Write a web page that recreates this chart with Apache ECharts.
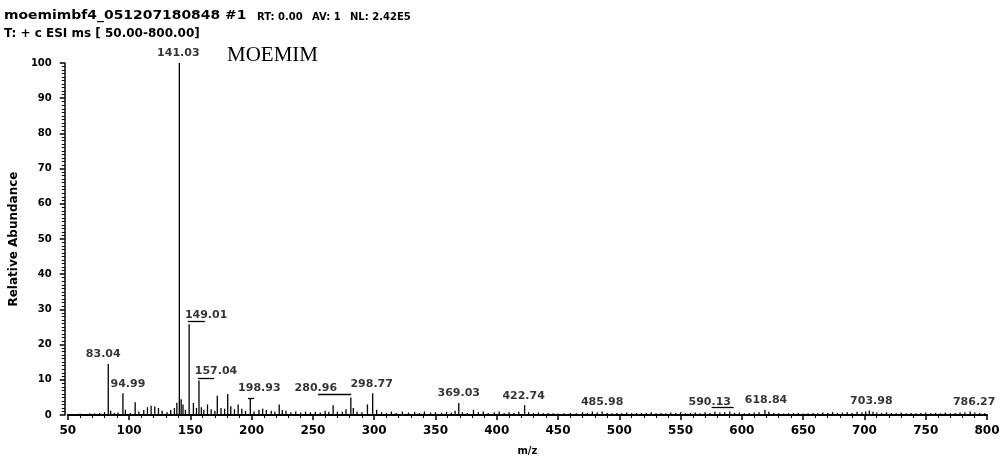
<!DOCTYPE html>
<html>
<head>
<meta charset="utf-8">
<script src="https://cdn.jsdelivr.net/npm/echarts@6/dist/echarts.min.js"></script>
<style>
  html, body { margin: 0; padding: 0; background: #fff; }
  #chart { width: 1003px; height: 461px; }
</style>
</head>
<body>
<div id="chart"></div>
<script>
// Labelled peaks (m/z, relative abundance %)
const labeledMz    = [83.04, 94.99, 141.03, 149.01, 157.04, 198.93, 280.96, 298.77, 369.03, 422.74, 485.98, 590.13, 618.84, 703.98, 786.27];
const labeledAbund = [14.5,  6.2,   100,    25.8,   9.8,    4.8,    5.0,    6.2,    3.4,    2.8,    1.0,    1.0,    1.5,    1.3,    1.0];

// Unlabelled minor peaks (m/z, relative abundance %)
const minorMz = [
  55, 60, 64, 68, 72, 76, 80, 85, 88, 91, 97, 101, 105, 108, 112, 115, 118, 121, 124, 127,
  131, 134, 137, 139, 142.5, 144, 146, 152.5, 155, 159, 161, 164, 167, 170, 172, 175, 178, 180.5, 183, 186,
  189, 192, 195, 202, 206, 209, 212, 216, 219, 222.5, 225, 228, 232, 236, 240, 244, 248, 252, 256, 260,
  263, 266.5, 270, 274, 277, 283, 286, 290, 294.5, 302, 306, 310, 314, 318, 323, 328, 333, 337, 341, 346,
  350, 355, 359, 363, 366, 372, 376, 381, 385, 389, 393, 398, 402, 406, 410, 414, 418, 426, 430, 434,
  438, 442, 446, 450, 455, 460, 465, 470, 474, 478, 482, 490, 494, 498, 502, 506, 510, 514, 518, 522,
  526, 530, 534, 538, 542, 546, 550, 554, 558, 562, 566, 570, 574, 578, 582, 586, 594, 598, 602, 606,
  610, 614, 622, 626, 630, 634, 638, 642, 646, 650, 654, 658, 662, 666, 670, 674, 678, 682, 686, 690,
  694, 698, 701, 707, 710, 714, 718, 722, 726, 730, 734, 738, 742, 746, 750, 754, 758, 762, 766, 770,
  774, 778, 782, 790, 794, 798
];
const minorAbund = [
  0.3, 0.4, 0.3, 0.5, 0.4, 0.6, 0.8, 1.2, 0.6, 0.7, 1.5, 0.6, 3.6, 1.0, 1.4, 2.2, 2.6, 2.4, 2.0, 1.2,
  0.8, 1.4, 2.0, 3.5, 4.5, 3.0, 1.5, 3.4, 2.0, 2.2, 1.5, 3.0, 1.6, 1.2, 5.5, 2.0, 1.8, 6.0, 2.5, 1.6,
  3.0, 1.8, 1.2, 1.0, 1.5, 1.8, 1.4, 1.2, 1.0, 3.0, 1.4, 1.2, 0.8, 1.0, 0.7, 1.0, 0.8, 0.9, 0.7, 1.2,
  0.9, 2.8, 1.0, 0.9, 1.6, 2.0, 1.0, 0.8, 3.0, 1.5, 0.8, 0.6, 1.0, 0.6, 1.0, 0.7, 0.9, 0.6, 1.0, 0.7,
  0.8, 0.6, 0.9, 0.7, 1.2, 0.8, 0.6, 1.5, 0.8, 1.0, 0.6, 0.8, 1.0, 0.6, 0.8, 0.6, 0.9, 0.8, 0.6, 0.7,
  0.5, 0.6, 0.5, 0.4, 0.5, 0.6, 0.5, 0.8, 0.6, 1.0, 0.7, 0.6, 0.5, 0.6, 0.5, 0.7, 0.5, 0.6, 0.5, 0.6,
  0.8, 0.5, 0.6, 0.5, 0.7, 0.6, 0.8, 0.5, 0.6, 0.7, 0.5, 0.8, 0.6, 0.9, 0.7, 0.8, 0.6, 0.7, 0.5, 0.6,
  0.7, 0.8, 0.9, 0.6, 0.5, 0.4, 0.5, 0.5, 0.6, 0.4, 0.5, 0.6, 0.5, 0.7, 0.6, 0.8, 0.6, 0.7, 0.8, 0.6,
  0.9, 0.7, 1.0, 0.9, 0.7, 0.6, 0.8, 0.6, 0.5, 0.7, 0.5, 0.6, 0.5, 0.6, 0.7, 0.5, 0.6, 0.5, 0.7, 0.5,
  0.6, 0.7, 0.8, 0.7, 0.6, 0.5
];

// Short leader bars drawn under some peak labels (m/z from, m/z to, abundance level)
const leaderFrom  = [148.0, 156.2, 197.0, 254.2, 575.3];
const leaderTo    = [161.9, 169.3, 202.0, 281.2, 593.3];
const leaderLevel = [26.6,  10.4,  4.8,   5.9,   2.2];

// Axis ticks
const xTickMin = 50, xTickMax = 800, xTickStep = 50;
const yTickMin = 0,  yTickMax = 100, yTickStep = 10;

const headerLine1 = ['moemimbf4_051207180848 #1', 'RT: 0.00', 'AV: 1', 'NL: 2.42E5'];
const headerLine2 = 'T: + c ESI ms [ 50.00-800.00]';
const compoundName = 'MOEMIM';

// Horizontal nudge (px) of each peak label so neighbouring labels do not collide
const labelDx = [-5, 5, -1, 17, 17, 9, -35, -1, 0, -1, 0, -20, 1, 2, 4];

const allPeaks = minorMz.map((m, i) => [m, minorAbund[i]])
  .concat(labeledMz.map((m, i) => [m, labeledAbund[i]]));
const labelPoints = labeledMz.map((m, i) => ({
  value: [m, labeledAbund[i]],
  name: m.toFixed(2),
  label: { offset: [labelDx[i], 0] }
}));
const leaderLines = leaderFrom.map((f, i) => [
  { coord: [f, leaderLevel[i]] },
  { coord: [leaderTo[i], leaderLevel[i]] }
]);

const SANS = '"DejaVu Sans", "Liberation Sans", Arial, sans-serif';
const headFont = 'bold 12px ' + SANS;
const headFontSmall = 'bold 10px ' + SANS;

const chart = echarts.init(document.getElementById('chart'), null, { renderer: 'canvas' });

chart.setOption({
  backgroundColor: '#fff',
  animation: false,
  grid: { left: 67, right: 16, top: 63, bottom: 41 },
  xAxis: {
    type: 'value', min: xTickMin, max: xTickMax, interval: xTickStep,
    name: 'm/z', nameLocation: 'middle', nameGap: 31,
    nameTextStyle: { fontFamily: SANS, fontWeight: 'bold', fontSize: 10, color: '#000' },
    axisLine: { onZero: false, lineStyle: { color: '#000', width: 2 } },
    axisTick: { length: 5, lineStyle: { color: '#000', width: 1.5 } },
    minorTick: { show: true, splitNumber: 5, length: 3, lineStyle: { color: '#000', width: 1 } },
    axisLabel: { fontFamily: SANS, fontWeight: 'bold', fontSize: 12, color: '#000', margin: 10 },
    splitLine: { show: false }
  },
  yAxis: {
    type: 'value', min: yTickMin, max: yTickMax, interval: yTickStep,
    offset: 3,
    name: 'Relative Abundance', nameLocation: 'middle', nameGap: 42, nameRotate: 90,
    nameTextStyle: { fontFamily: SANS, fontWeight: 'bold', fontSize: 12, color: '#000' },
    axisLine: { show: true, lineStyle: { color: '#000', width: 1.5 } },
    axisTick: { length: 5, lineStyle: { color: '#000', width: 1.5 } },
    minorTick: { show: true, splitNumber: 10, length: 3, lineStyle: { color: '#000', width: 1 } },
    axisLabel: { fontFamily: SANS, fontWeight: 'bold', fontSize: 10, color: '#000', margin: 13 },
    splitLine: { show: false }
  },
  graphic: [
    // the file-name run is set slightly stretched, like the instrument's wide header font
    { type: 'text', x: 4, y: 10, scaleX: 1.16, style: { text: headerLine1[0], font: headFont, fill: '#000' } },
    { type: 'text', x: 257, y: 12, style: { text: headerLine1[1], font: headFontSmall, fill: '#000' } },
    { type: 'text', x: 312, y: 12, style: { text: headerLine1[2], font: headFontSmall, fill: '#000' } },
    { type: 'text', x: 350, y: 12, style: { text: headerLine1[3], font: headFontSmall, fill: '#000' } },
    { type: 'text', x: 4, y: 28, style: { text: headerLine2, font: headFont, fill: '#000' } },
    { type: 'text', x: 227, y: 45, style: { text: compoundName, font: '21px "Liberation Serif", "Times New Roman", serif', fill: '#000' } }
  ],
  series: [
    {
      type: 'custom',
      data: allPeaks,
      clip: true,
      renderItem: function (params, api) {
        const base = api.coord([api.value(0), 0]);
        const top = api.coord([api.value(0), api.value(1)]);
        return {
          type: 'line',
          shape: { x1: base[0], y1: base[1], x2: top[0], y2: top[1] },
          style: { stroke: '#000', lineWidth: 1.3 }
        };
      },
      markLine: {
        silent: true, symbol: 'none', label: { show: false },
        lineStyle: { color: '#000', width: 1.3, type: 'solid' },
        data: leaderLines
      }
    },
    {
      type: 'scatter',
      data: labelPoints,
      symbolSize: 0,
      label: {
        show: true, position: 'top', distance: 4,
        formatter: function (p) { return p.name; },
        fontFamily: SANS, fontWeight: 'bold', fontSize: 11, color: '#000'
      }
    }
  ]
});
</script>
</body>
</html>
